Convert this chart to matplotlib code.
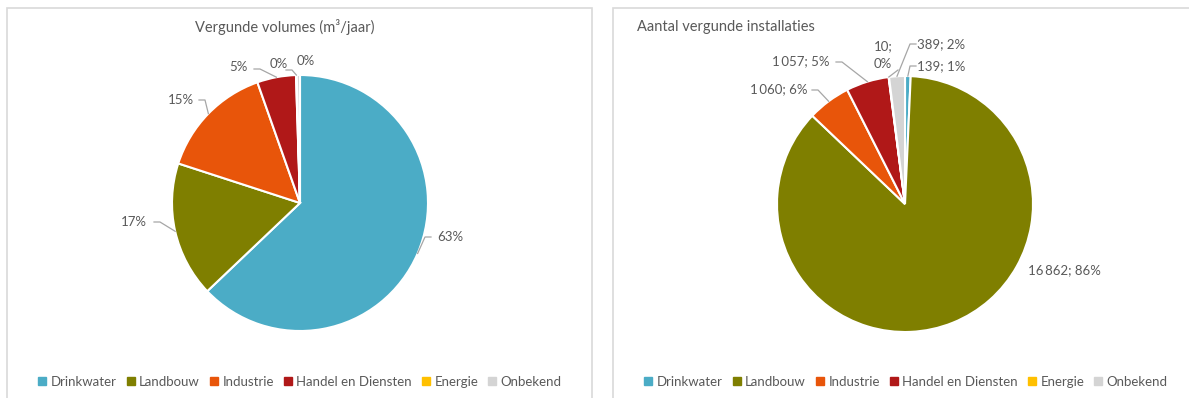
import numpy as np
import matplotlib.pyplot as plt
from matplotlib.patches import Rectangle
from matplotlib.lines import Line2D

plt.rcParams['font.family'] = ['Lato', 'DejaVu Sans']

W, H = 1189, 398

categories = ['Drinkwater', 'Landbouw', 'Industrie', 'Handel en Diensten', 'Energie', 'Onbekend']
colors = ['#4bacc6', '#7f7f00', '#e8550a', '#b01818', '#ffc000', '#d4d4d4']

# vergunde volumes, aandeel in %
volume_pct = [62.9, 17.1, 14.6, 4.9, 0.1, 0.4]
# aantal vergunde installaties
installaties = [139, 16862, 1060, 1057, 10, 389]
installaties_pct = [1, 86, 6, 5, 0, 2]

TXT = '#595959'
LINE = '#a6a6a6'


def py(y):
    # pixel rows are counted from the top
    return H - y


fig = plt.figure(figsize=(W / 100, H / 100), dpi=100)
ax = fig.add_axes([0, 0, 1, 1])
ax.set_xlim(0, W)
ax.set_ylim(0, H)
ax.axis('off')

# panel frames
for x0, x1 in [(7, 592), (613, 1200)]:
    ax.add_patch(Rectangle((x0, -5), x1 - x0, py(8) + 5, fill=False,
                           edgecolor='#d9d9d9', lw=1.2, zorder=0))


def draw_pie(cx, cy, vals):
    wedges, _ = ax.pie(vals, colors=colors, startangle=90, counterclock=False,
                       center=(cx, py(cy)), radius=128, frame=True,
                       wedgeprops=dict(edgecolor='white', linewidth=1.5))
    return wedges


def edge_point(w, cx, cy, r=128):
    a = np.deg2rad((w.theta1 + w.theta2) / 2)
    return cx + r * np.cos(a), py(cy) + r * np.sin(a)


def label(w, cx, cy, text, tx, ty, ha, elbow=None, dx=0):
    x0, y0 = edge_point(w, cx, cy)
    if elbow is not None:
        ex, ey = elbow
        ax.plot([x0 + dx, ex, ex + (6 if ha == 'left' else -6)], [y0, py(ey), py(ey)],
                color=LINE, lw=0.9, zorder=3)
    ax.text(tx, py(ty), text, ha=ha, va='center', fontsize=9.5, color=TXT,
            linespacing=1.6, zorder=4)


# left chart: volumes
lc = (300, 203)
wl = draw_pie(*lc, volume_pct)
ax.text(285, py(27), 'Vergunde volumes (m³/jaar)', ha='center', va='center',
        fontsize=10.5, color=TXT)
pct = ['%d%%' % round(v) for v in volume_pct]
label(wl[0], *lc, pct[0], 437, 237, 'left', elbow=(425, 237))
label(wl[1], *lc, pct[1], 147, 222, 'right', elbow=(160, 222))
label(wl[2], *lc, pct[2], 194, 100, 'right', elbow=(205, 100))
label(wl[3], *lc, pct[3], 248, 67, 'right', elbow=(260, 69))
label(wl[4], *lc, pct[4], 288, 64, 'right', elbow=(292, 70))
label(wl[5], *lc, pct[5], 297, 61, 'left')

# right chart: installaties
rc = (905, 204)
wr = draw_pie(*rc, installaties)
ax.text(637, py(27), 'Aantal vergunde installaties', ha='left', va='center',
        fontsize=10.5, color=TXT)
lab = ['{:,}; {}%'.format(n, p).replace(',', '\u2009') for n, p in zip(installaties, installaties_pct)]
label(wr[0], *rc, lab[0], 917, 66, 'left', elbow=(910, 66))
label(wr[1], *rc, lab[1], 1028, 270, 'left')
label(wr[2], *rc, lab[2], 808, 89, 'right', elbow=(818, 90))
label(wr[3], *rc, lab[3], 830, 61, 'right', elbow=(842, 62))
# Energie: two-line label with a short leader
ex, ey = edge_point(wr[4], *rc)
ax.plot([ex, 898], [ey, py(70)], color=LINE, lw=0.9, zorder=3)
ax.text(883, py(55), '10;\n0%', ha='center', va='center', fontsize=9.5,
        color=TXT, linespacing=1.6)
label(wr[5], *rc, lab[5], 917, 44, 'left', elbow=(910, 44))

ax.set_xlim(0, W)
ax.set_ylim(0, H)
ax.set_aspect('auto')

# legends
handles = [Line2D([], [], marker='s', ls='none', markersize=5.5, color=c) for c in colors]
for x in (300, 906):
    fig.legend(handles, categories, loc='center', bbox_to_anchor=(x / W, (H - 382) / H),
               ncol=6, frameon=False, fontsize=9.5, handlelength=0.6,
               handletextpad=0.35, columnspacing=0.75, labelcolor=TXT)

fig.savefig('out.png', dpi=100, facecolor='white')
